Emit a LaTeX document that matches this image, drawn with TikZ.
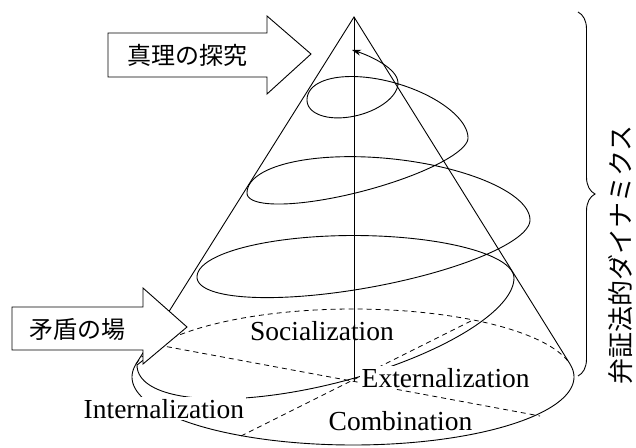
\documentclass[tikz,border=0pt]{standalone}
\usepackage{fontspec}
\setmainfont{Liberation Serif}
\newfontfamily\jp{Noto Sans CJK JP}
\usetikzlibrary{decorations.pathreplacing,arrows.meta}
\begin{document}
\begin{tikzpicture}[x=1pt,y=-1pt,
  declare function={
    ex(\t,\a,\b)=(\a+\b)/2+(\b-\a)/2*cos(\t);
    ey(\t,\a,\b,\c)=(\a+\b)/2+(\b-\a)/2*cos(\t)+\c*sin(\t);
  },
  ln/.style={line width=0.9pt},
  hidden/.style={line width=0.8pt, dash pattern=on 5pt off 4pt},
  bigarrow/.style={draw, line width=0.9pt, fill=white, line join=miter},
  lab/.style={font=\fontsize{27.5}{27.5}\selectfont, anchor=base west, inner sep=0pt},
  labw/.style={lab, fill=white, inner sep=1.5pt},
  jlab/.style={font=\jp\fontsize{24}{24}\selectfont, inner sep=0pt},
  jside/.style={font=\jp\fontsize{26}{26}\selectfont, inner sep=0pt}]
\useasboundingbox (0,0) rectangle (636,447);

% key points
\coordinate (apex) at (354,17);
\coordinate (ltan) at (136,364);
\coordinate (rtan) at (570,364);
\coordinate (axb) at (354,382);
\coordinate (a1) at (158,345);
\coordinate (a2) at (540,416);
\coordinate (b1) at (241,436);
\coordinate (b2) at (473,320);

% base ellipse
\draw[ln] plot[domain=-10.84:190.94, samples=120] ({353+221*cos(\x)},{377+68*sin(\x)});
\draw[hidden] plot[domain=-169.06:-10.84, samples=100] ({353+221*cos(\x)},{377+68*sin(\x)});
% dashed quadrant lines
\draw[hidden] (a1) -- (a2);
\draw[hidden] (b1) -- (b2);

% cone
\draw[ln] (ltan) -- (apex) -- (rtan);
\draw[ln] (apex) -- (axb);

% spiral
\coordinate (sp0) at (146,358);
\coordinate (sp1) at (137,365);
\coordinate (sptip) at (352,50);
\draw[ln, -{Stealth[length=9pt,width=6pt]}] (sp0) -- (sp1)
  -- plot[domain=180:0, samples=80] ({ex(\x,137,514)},{ey(\x,365,278,64)})
  -- plot[domain=360:180, samples=80] ({ex(\x,197,514)},{ey(\x,277,278,42)})
  -- plot[domain=180:0, samples=80] ({ex(\x,197,530)},{ey(\x,277,220,40)})
  -- plot[domain=360:180, samples=80] ({ex(\x,247,530)},{ey(\x,193,220,48)})
  -- plot[domain=180:0, samples=70] ({ex(\x,247,468)},{ey(\x,193,138,27)})
  -- plot[domain=360:180, samples=70] ({ex(\x,307,468)},{ey(\x,100,138,38)})
  -- plot[domain=180:0, samples=50] ({ex(\x,307,398)},{ey(\x,100,83,25)})
  .. controls (398,68) and (368,55) .. (sptip);

% labels
\node[lab] (soc) at (250,340) {Socialization};
\node[labw] (ext) at (360,387) {Externalization};
\node[labw] (int) at (82,418) {Internalization};
\node[labw] (com) at (327,430) {Combination};

% big arrows
\draw[bigarrow] (108,33) -- (267,33) -- (267,16) -- (311,54) -- (267,94) -- (267,77) -- (108,77) -- cycle;
\node[jlab] (truth) at (187,55) {真理の探究};
\draw[bigarrow] (12,307) -- (143,307) -- (143,288) -- (187,327) -- (143,364) -- (143,350) -- (12,350) -- cycle;
\node[jlab] (field) at (77,329) {矛盾の場};

% brace and side text
\coordinate (brt) at (578,12);
\coordinate (brb) at (578,376);
\draw[ln, decorate, decoration={brace, amplitude=17pt}] (brt) -- (brb);
\node[jside, rotate=90] (dyn) at (621,255) {弁証法的ダイナミクス};
\end{tikzpicture}
\end{document}
